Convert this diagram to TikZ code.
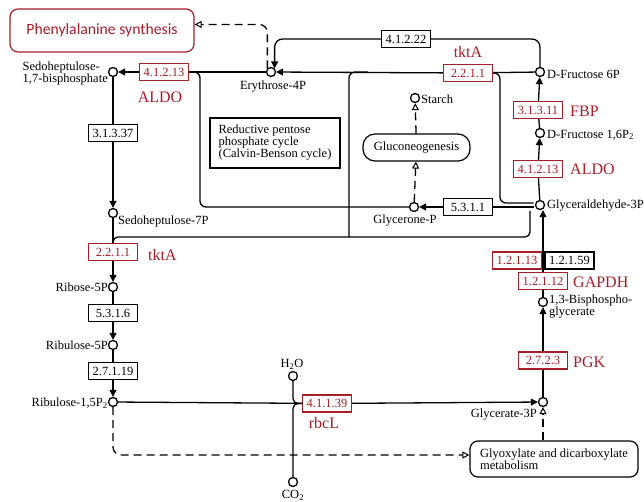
\documentclass[tikz,border=0pt]{standalone}
\usepackage{fontspec}
\setmainfont{Liberation Serif}
\newfontfamily\carlito{Carlito}
\usetikzlibrary{arrows.meta,calc}
\definecolor{kred}{RGB}{165,30,40}
\begin{document}
\begin{tikzpicture}[x=1pt,y=-1pt,
  cmp/.style={circle,draw,line width=1.3pt,fill=white,minimum size=9pt,inner sep=0pt},
  lab/.style={font=\fontsize{12.5}{12}\selectfont,inner sep=0pt},
  ec/.style={draw,line width=1.2pt,fill=white,minimum width=49pt,minimum height=17pt,inner sep=0pt,font=\fontsize{12.5}{13}\selectfont},
  ecr/.style={ec,draw=kred,text=kred},
  gene/.style={font=\fontsize{16}{18}\selectfont,text=kred,inner sep=0pt},
  conn/.style={line width=1.3pt},
  arr/.style={conn,-{Triangle[length=7pt,width=7pt]}},
  dsh/.style={conn,dash pattern=on 8pt off 5pt},
  oarr/.style={dsh,-{Triangle[open,length=7pt,width=7pt,line width=1pt]}},
  pbox/.style={draw,line width=1.2pt,fill=white}
]
\fill[white] (0,0) rectangle (644,502);
\useasboundingbox (0,0) rectangle (644,502);

% pathway boxes
\node[pbox,draw=kred,rounded corners=8pt,minimum width=184pt,minimum height=43pt,text=kred,font=\carlito\fontsize{15.7}{18}\selectfont] (phe) at (102,30.5) {Phenylalanine synthesis};
\node[pbox,lab,minimum width=130pt,minimum height=50pt,align=left] (rpp) at (275,143) {Reductive pentose\\phosphate cycle\\(Calvin-Benson cycle)};
\node[pbox,lab,rounded corners=12pt,minimum width=107pt,minimum height=27pt] (gluco) at (416.5,147.5) {Gluconeogenesis};
\node[pbox,lab,rounded corners=8pt,minimum width=168pt,minimum height=36pt,align=left] (glyox) at (554,459) {Glyoxylate and dicarboxylate\\metabolism};

% compounds
\node[cmp] (s17) at (113,72) {};
\node[cmp] (e4p) at (271,72) {};
\node[cmp] (s7p) at (113,213) {};
\node[cmp] (r5p) at (113,287) {};
\node[cmp] (ru5p) at (113,345) {};
\node[cmp] (rubp) at (113,402) {};
\node[cmp] (f6p) at (540,72) {};
\node[cmp] (fbp) at (540,133) {};
\node[cmp] (g3p) at (540,205) {};
\node[cmp] (glyp) at (414,207) {};
\node[cmp] (starch) at (415,98) {};
\node[cmp] (bpg) at (543,302) {};
\node[cmp] (pga) at (543,402) {};
\node[cmp] (h2o) at (293,376) {};
\node[cmp] (co2) at (293,482) {};

% compound labels
\node[lab,anchor=east,align=left] (ls17) at (108,73) {Sedoheptulose-\\1,7-bisphosphate};
\node[lab] (le4p) at (273,87) {Erythrose-4P};
\node[lab,anchor=west] (ls7p) at (118,221) {Sedoheptulose-7P};
\node[lab,anchor=east] (lr5p) at (108,287) {Ribose-5P};
\node[lab,anchor=east] (lru5p) at (108,345) {Ribulose-5P};
\node[lab,anchor=east] (lrubp) at (108,403) {Ribulose-1,5P\textsubscript{2}};
\node[lab,anchor=west] (lf6p) at (547,74) {D-Fructose 6P};
\node[lab,anchor=west] (lfbp) at (547,135) {D-Fructose 1,6P\textsubscript{2}};
\node[lab,anchor=west] (lg3p) at (547,206) {Glyceraldehyde-3P};
\node[lab] (lglyp) at (405,221) {Glycerone-P};
\node[lab,anchor=west] (lstarch) at (421,99) {Starch};
\node[lab,anchor=west,align=left] (lbpg) at (549,307) {1,3-Bisphospho-\\glycerate};
\node[lab,anchor=east] (lpga) at (537,415) {Glycerate-3P};
\node[lab] (lh2o) at (292,364) {H\textsubscript{2}O};
\node[lab] (lco2) at (293,495) {CO\textsubscript{2}};

% enzymes
\node[ecr] (b41213a) at (164,72) {4.1.2.13};
\node[ec] (b31337) at (113,133) {3.1.3.37};
\node[ecr] (b2211a) at (113,252) {2.2.1.1};
\node[ec] (b5316) at (113,313) {5.3.1.6};
\node[ec] (b27119) at (113,371) {2.7.1.19};
\node[ec] (b41222) at (406,39) {4.1.2.22};
\node[ecr] (b2211b) at (468,73) {2.2.1.1};
\node[ecr] (b31311) at (538,110) {3.1.3.11};
\node[ecr] (b41213b) at (538,169) {4.1.2.13};
\node[ec] (b5311) at (468,207) {5.3.1.1};
\node[ecr] (b12113) at (517,260.5) {1.2.1.13};
\node[ec] (b12159) at (569.5,260.5) {1.2.1.59};
\node[ecr] (b12112) at (543,281) {1.2.1.12};
\node[ecr] (b2723) at (543,360.5) {2.7.2.3};
\node[ecr] (b41139) at (327,403.5) {4.1.1.39};

% gene names
\node[gene] (galdo1) at (160,97) {ALDO};
\node[gene] (gtkt1) at (468,52) {tktA};
\node[gene,anchor=west] (gtkt2) at (148,255) {tktA};
\node[gene,anchor=west] (gfbp) at (570,111) {FBP};
\node[gene,anchor=west] (galdo2) at (570,169) {ALDO};
\node[gene,anchor=west] (ggapdh) at (573,282) {GAPDH};
\node[gene,anchor=west] (gpgk) at (573,362) {PGK};
\node[gene] (grbcl) at (324,423) {rbcL};

% helper coordinates
\coordinate (jt) at (349,237);
\coordinate (jr) at (368,72);
\coordinate (gb) at (530,211);
\coordinate (ja) at (200,207);
\coordinate (jb) at (500,203);
\coordinate (jc) at (533.5,203);
\coordinate (jd) at (533.5,207);

% connectors
\draw[conn] (e4p) -- (b41213a);
\draw[arr] (b41213a) -- (s17);
\draw[conn] (s17) -- (b31337);
\draw[arr] (b31337) -- (s7p);
\draw[conn] (s7p) -- (b2211a);
\draw[arr] (b2211a) -- (r5p);
\draw[conn] (r5p) -- (b5316);
\draw[arr] (b5316) -- (ru5p);
\draw[conn] (ru5p) -- (b27119);
\draw[arr] (b27119) -- (rubp);
\draw[conn,rounded corners=5] (b2211a.north) |- (jt) -| (gb);
\draw[conn,rounded corners=6] (jt) |- (jr);
\draw[conn,rounded corners=6] (b41213a.east) -| (ja) -- (glyp);
\draw[conn] (f6p) -- (b2211b);
\draw[arr] (b2211b) -- (e4p);
\draw[conn,rounded corners=6] (b2211b.east) -| (jb) -- (jc);
\draw[conn] (jd) -- (b5311);
\draw[arr] (b5311) -- (glyp);
\draw[conn,rounded corners=8] (f6p) |- (b41222);
\draw[arr,rounded corners=8] (b41222) -| (e4p.north east);
\draw[oarr,rounded corners=8] (e4p.north west) |- ($(phe.east)+(0,-6)$);
\draw[oarr] (glyp) -- (gluco);
\draw[oarr] (gluco) -- (starch);
\draw[conn] (fbp) -- (b31311);
\draw[arr] (b31311) -- (f6p);
\draw[conn] (g3p) -- (b41213b);
\draw[arr] (b41213b) -- (fbp);
\draw[conn] (bpg) -- (b12112);
\draw[arr] (b12112.north) -- (b12112.north |- g3p.south);
\draw[conn] (pga) -- (b2723);
\draw[arr] (b2723) -- (bpg);
\draw[conn] (rubp) -- (b41139);
\draw[arr] (b41139) -- (pga);
\draw[conn,rounded corners=5] (h2o.south) |- (b41139.west);
\draw[conn,rounded corners=5] (co2.north) |- (b41139.west);
\draw[oarr,rounded corners=8] (rubp.south) |- ($(glyox.west)+(0,-4)$);
\draw[oarr] (pga |- glyox.north) -- (pga);
\end{tikzpicture}
\end{document}
